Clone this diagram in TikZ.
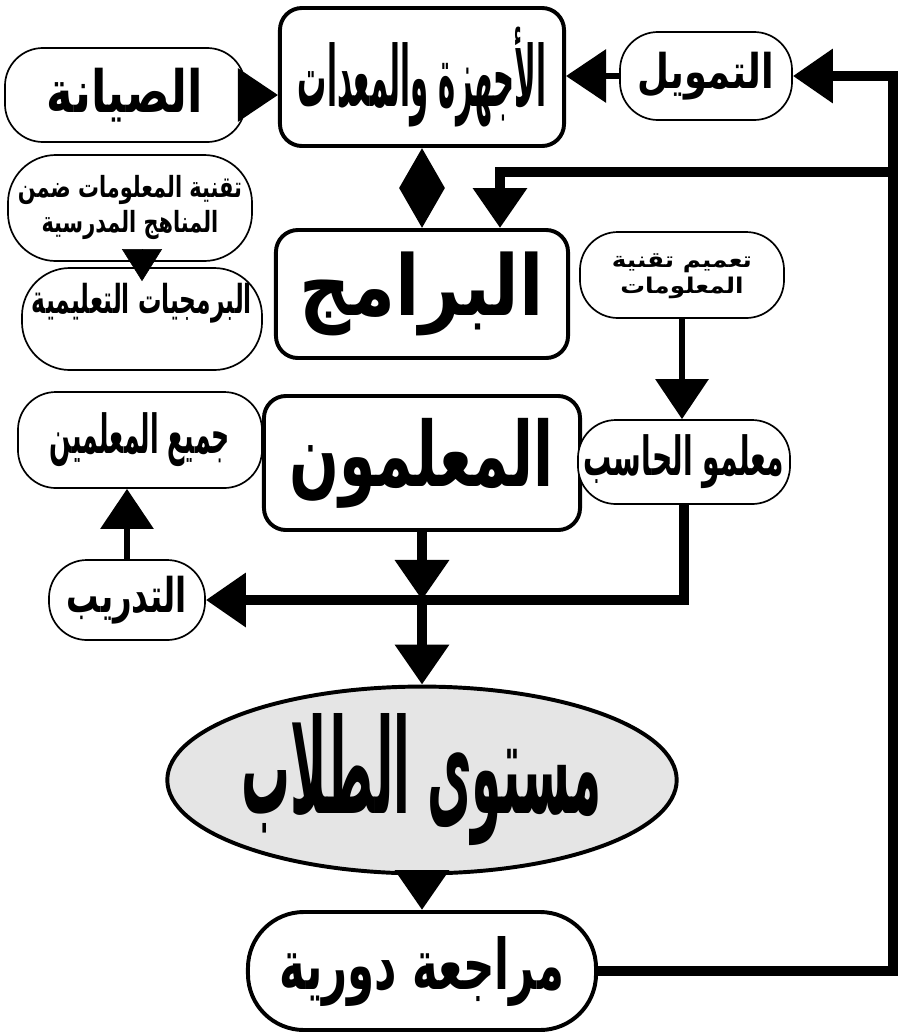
\documentclass[tikz,border=0pt]{standalone}
\usepackage{graphicx}
\usepackage{fontspec}
\newfontfamily\arabicfont[Script=Arabic]{DejaVu Sans}
\TeXXeTstate=1
\usetikzlibrary{arrows.meta,shapes.geometric}

\newcommand{\artext}[3]{\resizebox*{#1}{#2}{\arabicfont\bfseries #3}}
\newcommand{\artwo}[4]{\resizebox*{#1}{#2}{\begin{tabular}{@{}c@{}}\arabicfont\bfseries #3\\\arabicfont\bfseries #4\end{tabular}}}

\begin{document}
\begin{tikzpicture}[x=0.025cm, y=-0.025cm,
    mainbox/.style={draw, line width=2.8pt, rounded corners=0.55cm, inner sep=0pt, fill=white},
    sidebox/.style={draw, line width=1.2pt, rounded corners=0.95cm, inner sep=0pt, fill=white},
    fat/.style={line width=7pt},
    mid/.style={line width=4.5pt},
    bigtip/.style={-{Triangle[length=1cm,width=1.3cm]}},
    twotip/.style={{Triangle[length=1cm,width=1.1cm]}-{Triangle[length=1cm,width=1.1cm]}}
]
\useasboundingbox (0,0) rectangle (909,1034);

% top row
\node [mainbox, minimum width=7.1cm, minimum height=3.45cm] (Hw) at (422,77) {\artext{6.2cm}{2.5cm}{\beginR الأجهزة والمعدات\endR}};
\node [sidebox, minimum width=6cm, minimum height=2.35cm] (Maint) at (125,95) {\artext{3.9cm}{1.35cm}{\beginR الصيانة\endR}};
\node [sidebox, minimum width=4.3cm, minimum height=2.2cm] (Fund) at (706,76) {\artext{3.4cm}{1.2cm}{\beginR التمويل\endR}};

% second row
\node [sidebox, rounded corners=1.2cm, minimum width=6.1cm, minimum height=2.65cm] (ItCur) at (130,208) {\artwo{5.6cm}{1.75cm}{\beginR تقنية المعلومات ضمن\endR}{\beginR المناهج المدرسية\endR}};
\node [sidebox, rounded corners=1.2cm, minimum width=6cm, minimum height=2.55cm] (Soft) at (142,319) {\raisebox{0.4cm}[\height][\depth]{\artext{5.5cm}{1cm}{\beginR البرمجيات التعليمية\endR}}};
\node [mainbox, minimum width=7.3cm, minimum height=3.2cm] (Prog) at (422,294) {\artext{6.1cm}{2.1cm}{\beginR البرامج\endR}};
\node [sidebox, minimum width=5.1cm, minimum height=2.15cm] (ItGen) at (682,275) {\artwo{3.5cm}{1.3cm}{\beginR تعميم تقنية\endR}{\beginR المعلومات\endR}};

% third row
\node [mainbox, minimum width=7.9cm, minimum height=3.35cm] (Teach) at (422,463) {\artext{6.6cm}{2.25cm}{\beginR المعلمون\endR}};
\node [sidebox, minimum width=5.3cm, minimum height=2.1cm] (Cst) at (684,462) {\artext{5cm}{1.35cm}{\beginR معلمو الحاسب\endR}};
\node [sidebox, minimum width=6.1cm, minimum height=2.4cm] (Allt) at (140,440) {\artext{4.5cm}{1.35cm}{\beginR جميع المعلمين\endR}};
\node [sidebox, minimum width=3.9cm, minimum height=2cm] (Train) at (127,600) {\artext{3cm}{1.2cm}{\beginR التدريب\endR}};

% bottom
\node [ellipse, draw, line width=2.8pt, fill=gray!20, minimum width=12.5cm, minimum height=4.5cm, inner sep=0pt] (Level) at (422,780) {\artext{9cm}{3.3cm}{\beginR مستوى الطلاب\endR}};
\node [mainbox, rounded corners=1.4cm, minimum width=8.7cm, minimum height=2.95cm] (Review) at (422,971) {\artext{7.1cm}{1.75cm}{\beginR مراجعة دورية\endR}};

\coordinate (FbTop) at (893,76);
\coordinate (FbMid) at (893,172);
\coordinate (PgIn) at (500,172);
\coordinate (Jn) at (422,600);

% connectors
\draw [mid, bigtip] (Maint.east) -- (Maint.east -| Hw.west);
\draw [mid, bigtip] (Fund.west) -- (Fund.west -| Hw.east);
\draw [mid, twotip] (Hw.south) -- (Prog.north);
\draw [-{Triangle[length=0.8cm,width=1cm]}] ([yshift=0.3cm]Soft.north |- ItCur.south) -- ([yshift=-0.35cm]Soft.north);
\draw [mid, bigtip] (ItGen.south) -- (ItGen.south |- Cst.north);
\draw [fat, bigtip] (Review.east) -| (FbTop) -- (Fund.east);
\draw [fat, bigtip] (FbMid) -- (PgIn) -- (PgIn |- Prog.north);
\draw [fat, bigtip] (Cst.south) |- (Train.east);
\draw [fat, bigtip] (Teach) -- (Jn);
\draw [fat, bigtip] (Jn) -- (Level);
\draw [mid, bigtip] (Train.north) -- (Train.north |- Allt.south);
\draw [fat, bigtip] (Level) -- (Review);

\end{tikzpicture}
\end{document}
